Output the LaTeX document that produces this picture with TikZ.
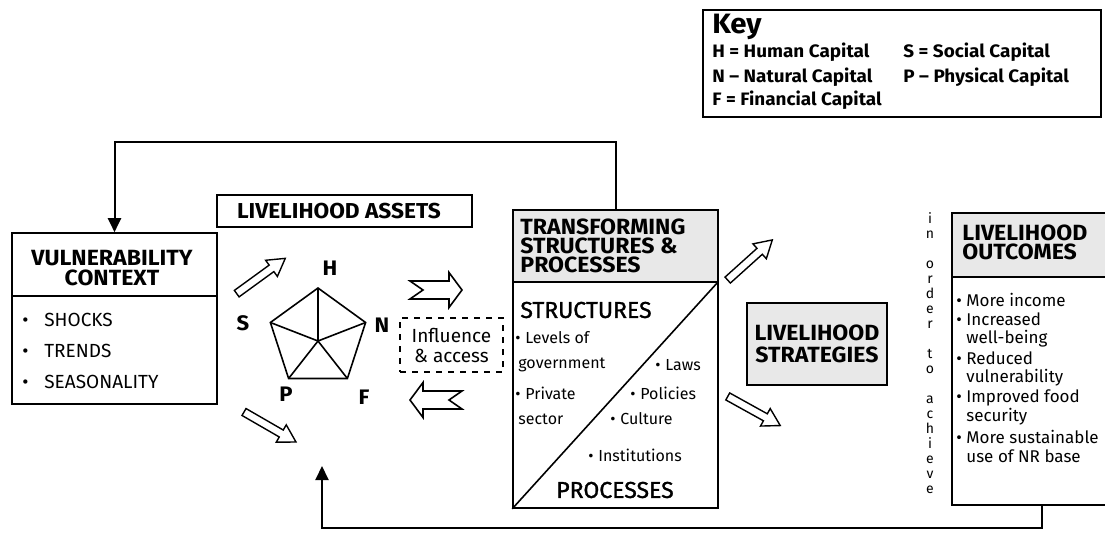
\documentclass[tikz,border=0pt]{standalone}
\usepackage{fontspec}
\setmainfont{Fira Sans}
\newfontfamily\headfont{Fira Sans}[FakeStretch=1.05]
\newfontfamily\medfont{Fira Sans}[FakeBold=1.2]
\usetikzlibrary{arrows.meta,fit}
\newcommand{\bul}{\makebox[5pt][l]{\textbullet}}
\newcommand{\bigbul}{\makebox[11pt][l]{\textbullet}}
\newcommand{\ind}{\hspace*{5pt}}

\tikzset{
  box/.style={draw, line width=0.8pt, inner sep=0pt},
  greybox/.style={box, fill=gray!18},
  head/.style={font=\headfont\bfseries\fontsize{11}{9.6}\selectfont, align=center, inner sep=0pt},
  subhead/.style={font=\medfont\fontsize{11.5}{12}\selectfont, inner sep=0pt},
  item/.style={font=\fontsize{8}{9.75}\selectfont, anchor=west, inner sep=0pt},
  vitem/.style={font=\fontsize{9.5}{11}\selectfont, anchor=west, inner sep=0pt},
  keytext/.style={font=\headfont\bfseries\fontsize{9}{10}\selectfont, anchor=west, inner sep=0pt},
  letterlab/.style={font=\headfont\bfseries\fontsize{10.5}{12}\selectfont, inner sep=0pt},
  feed/.style={line width=1pt, -{Triangle[width=6.5pt,length=7pt]}},
  pent/.style={line width=0.8pt},
  slimarrow/.pic={\draw[line width=0.7pt] (-30,-4) -- (13,-4) -- (13,-10) -- (30,0) -- (13,10) -- (13,4) -- (-30,4) -- cycle;},
  notcharrow/.pic={\draw[line width=0.8pt] (-26,-9) -- (13,-9) -- (13,-17.5) -- (26,0) -- (13,17.5) -- (13,9) -- (-26,9) -- (-13,0) -- cycle;}
}

\begin{document}
\begin{tikzpicture}[x=0.5pt, y=-0.5pt]
  \useasboundingbox (0,0) rectangle (1105,536);

  % key
  \node[box, fit={(703,10) (1101,117)}] (key) {};
  \node[font=\headfont\bfseries\fontsize{14}{15}\selectfont, anchor=west, inner sep=0pt] (keyt) at (712,27) {Key};
  \node[keytext] (kh) at (712,52) {H = Human Capital};
  \node[keytext] (kn) at (712,77) {N – Natural Capital};
  \node[keytext] (kf) at (712,100) {F = Financial Capital};
  \node[keytext] (ks) at (903,52) {S = Social Capital};
  \node[keytext] (kp) at (903,77) {P – Physical Capital};

  % vulnerability context
  \node[box, fit={(12,233) (217,404)}] (vc) {};
  \draw[line width=0.8pt] (12,296) -- (217,296);
  \node[head] (vct) at (112,268) {VULNERABILITY\\CONTEXT};
  \foreach \t [count=\i from 0] in {SHOCKS, TRENDS, SEASONALITY}
    \node[vitem] (vc-\i) at (22,320+31*\i) {\bigbul\t};

  % livelihood assets
  \node[box, fit={(217,195) (472,227)}] (la) {};
  \node[font=\headfont\bfseries\fontsize{10.8}{12}\selectfont, inner sep=0pt] (lat) at (339,211) {LIVELIHOOD ASSETS};

  \coordinate (vh) at (318,288);
  \coordinate (vn) at (365.6,322.5);
  \coordinate (vf) at (347.4,378.5);
  \coordinate (vp) at (288.6,378.5);
  \coordinate (vs) at (270.4,322.5);
  \coordinate (hub) at (318,341);
  \draw[pent] (vh) -- (vn) -- (vf) -- (vp) -- (vs) -- cycle;
  \foreach \v in {vh,vn,vf,vp,vs}
    \draw[pent] (hub) -- (\v);
  \node[letterlab] (lh) at (330,268) {H};
  \node[letterlab] (ln) at (382,325) {N};
  \node[letterlab] (ls) at (243,323) {S};
  \node[letterlab] (lp) at (286,394) {P};
  \node[letterlab] (lf) at (364,397) {F};

  \pic[rotate=36] (a1) at (261,276) {slimarrow};
  \pic[rotate=-30] (a2) at (270,427) {slimarrow};
  \pic (a5) at (436,290) {notcharrow};
  \pic[rotate=180] (a6) at (436,400) {notcharrow};

  \node[draw, dashed, line width=0.7pt, fit={(400,318) (503,372)}, inner sep=0pt] (inf) {};
  \node[font=\fontsize{9.5}{10}\selectfont, align=center, inner sep=0pt] (inft) at (inf.center) {Influence\\\& access};

  % transforming structures and processes
  \fill[gray!18] (513,210) rectangle (718,282);
  \node[box, fit={(513,210) (718,508)}] (tsp) {};
  \draw[line width=0.8pt] (513,282) -- (718,282);
  \draw[line width=0.8pt] (tsp.south west) -- (718,282);
  \node[head, align=left, anchor=west] (tspt) at (520,246) {TRANSFORMING\\STRUCTURES \&\\PROCESSES};
  \node[subhead, anchor=west] (st) at (520,310) {STRUCTURES};
  \node[item] (i1) at (515,338) {\bul Levels of};
  \node[item] (i2) at (518,365) {government};
  \node[item] (i3) at (515,393) {\bul Private};
  \node[item] (i4) at (518,419) {sector};
  \node[item] (i5) at (655,365) {\bul Laws};
  \node[item] (i6) at (630,393) {\bul Policies};
  \node[item] (i7) at (610,419) {\bul Culture};
  \node[item] (i8) at (588,455) {\bul Institutions};
  \node[subhead] (pr) at (615,490) {PROCESSES};

  \pic[rotate=42] (a3) at (750,260) {slimarrow};
  \pic[rotate=-29] (a4) at (754,411) {slimarrow};

  % strategies
  \node[greybox, fit={(747,303) (887,385)}] (lstr) {};
  \node[head, font=\headfont\bfseries\fontsize{11}{11}\selectfont] (lstrt) at (lstr.center) {LIVELIHOOD\\STRATEGIES};

  \node[font=\fontsize{7}{7.5}\selectfont, align=center, inner sep=0pt] (ord) at (930,353)
    {i\\n\\~\\o\\r\\d\\e\\r\\~\\t\\o\\~\\a\\c\\h\\i\\e\\v\\e};

  % outcomes
  \fill[gray!18] (952,213) rectangle (1132,277);
  \node[box, fit={(952,213) (1132,505)}] (lo) {};
  \draw[line width=0.8pt] (952,277) -- (1132,277);
  \node[head, align=left, anchor=west] (lot) at (962,242) {LIVELIHOOD\\OUTCOMES};
  \foreach \t [count=\i from 0] in {\bul More income, \bul Increased, \ind well-being, \bul Reduced, \ind vulnerability, \bul Improved food, \ind security, \bul More sustainable, \ind use of NR base}
    \node[item, font=\fontsize{8.5}{9.75}\selectfont] (lo-\i) at (956,300+19.5*\i) {\t};

  % feedback lines
  \coordinate (tp) at (617,142);
  \draw[feed] (tsp.north) |- (vc.north |- tp) -- (vc.north);
  \coordinate (rb) at (1042,528);
  \coordinate (ret) at (322,466);
  \draw[feed] (lo.south -| rb) -- (rb) -- (ret |- rb) -- (ret);
\end{tikzpicture}
\end{document}
